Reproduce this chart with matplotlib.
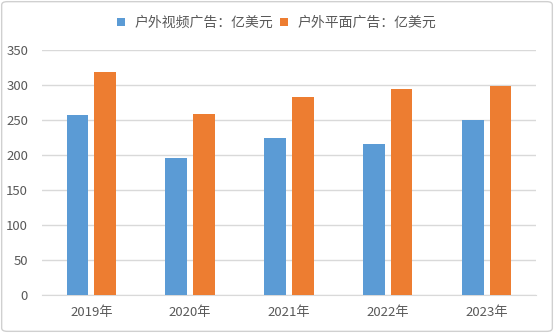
import matplotlib.pyplot as plt
import numpy as np
from matplotlib.patches import FancyBboxPatch

plt.rcParams['font.family'] = ['Noto Sans CJK SC', 'DejaVu Sans']

# Data
years = ['2019年', '2020年', '2021年', '2022年', '2023年']
video = [257, 196, 225, 216, 250]
print_ads = [318, 259, 283, 295, 298]
series_names = ['户外视频广告：亿美元', '户外平面广告：亿美元']
yticks = [0, 50, 100, 150, 200, 250, 300, 350]

blue = '#5B9BD5'
orange = '#ED7D31'
text_color = '#595959'

fig = plt.figure(figsize=(5.54, 3.33), dpi=100)
ax = fig.add_axes([0.0758, 0.1141, 0.8917, 0.7357])

x = np.arange(len(years))
w = 0.22
ax.bar(x - 0.14, video, width=w, color=blue, label=series_names[0], zorder=3)
ax.bar(x + 0.14, print_ads, width=w, color=orange, label=series_names[1], zorder=3)

ax.set_xlim(-0.5, len(years) - 0.5)
ax.set_ylim(0, 350)
ax.set_yticks(yticks)
ax.set_xticks(x)
ax.set_xticklabels(years)
ax.yaxis.grid(True, color='#d9d9d9', linewidth=1, zorder=0)
ax.tick_params(axis='both', length=0, labelsize=9.5, colors=text_color)
ax.tick_params(axis='x', pad=8)
ax.tick_params(axis='y', pad=10)
for side in ['top', 'right', 'left']:
    ax.spines[side].set_visible(False)
ax.spines['bottom'].set_color('#d9d9d9')

leg = fig.legend(loc='center', bbox_to_anchor=(0.5, 0.932), ncol=2, frameon=False,
                 fontsize=10, handlelength=0.55, handleheight=0.55, handletextpad=0.7,
                 columnspacing=0.5)
for t in leg.get_texts():
    t.set_color(text_color)

# light rounded border round the figure
border = FancyBboxPatch((0.003, 0.005), 0.994, 0.99, boxstyle='round,pad=0,rounding_size=0.01',
                        transform=fig.transFigure, fill=False, edgecolor='#d0d0d0', linewidth=1)
fig.patches.append(border)

fig.savefig('out.png', dpi=100)
